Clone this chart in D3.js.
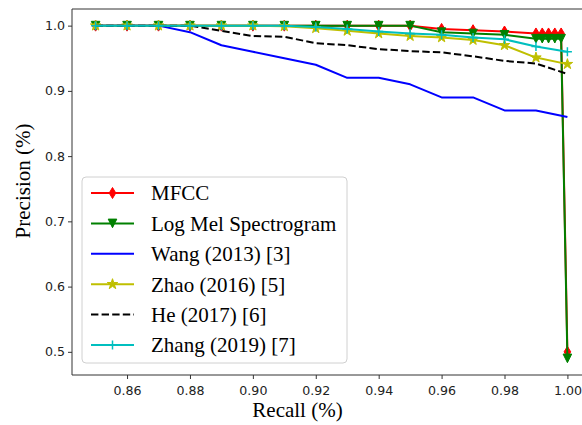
<!DOCTYPE html>
<html>
<head>
<meta charset="utf-8">
<script src="https://cdn.jsdelivr.net/npm/d3@7"></script>
<style>
  html, body { margin: 0; padding: 0; background: #fff; }
  svg { display: block; }
</style>
</head>
<body>
<svg id="chart" width="582" height="425"></svg>
<script>
// Recall points for the reference methods
const recallBase = [0.85, 0.86, 0.87, 0.88, 0.89, 0.90, 0.91, 0.92, 0.93, 0.94, 0.95, 0.96, 0.97, 0.98, 0.99, 1.00];
// Recall points for the proposed features (denser near 1.0)
const recallOurs = [0.85, 0.86, 0.87, 0.88, 0.89, 0.90, 0.91, 0.92, 0.93, 0.94, 0.95, 0.96, 0.97, 0.98, 0.99, 0.992, 0.994, 0.996, 0.998, 1.00];

const precMFCC   = [1, 1, 1, 1, 1, 1, 1, 1, 1, 1, 1, 0.995, 0.993, 0.991, 0.988, 0.988, 0.988, 0.988, 0.988, 0.50];
const precLogMel = [1, 1, 1, 1, 1, 1, 1, 1, 1, 1, 1, 0.990, 0.988, 0.986, 0.980, 0.980, 0.980, 0.980, 0.980, 0.49];
const precWang   = [1, 1, 1, 0.990, 0.970, 0.960, 0.950, 0.940, 0.920, 0.920, 0.910, 0.890, 0.890, 0.870, 0.870, 0.860];
const precZhao   = [1, 1, 1, 1, 1, 1, 0.999, 0.996, 0.992, 0.988, 0.984, 0.982, 0.978, 0.970, 0.951, 0.941];
const precHe     = [1, 1, 1, 1, 0.992, 0.984, 0.983, 0.973, 0.970, 0.964, 0.961, 0.959, 0.953, 0.946, 0.942, 0.926];
const precZhang  = [1, 1, 1, 1, 1, 1, 1, 0.998, 0.995, 0.991, 0.988, 0.986, 0.982, 0.979, 0.968, 0.960];

const seriesNames = ["MFCC", "Log Mel Spectrogram", "Wang (2013) [3]", "Zhao (2016) [5]", "He (2017) [6]", "Zhang (2019) [7]"];

const xTicks = [0.86, 0.88, 0.90, 0.92, 0.94, 0.96, 0.98, 1.00];
const yTicks = [0.5, 0.6, 0.7, 0.8, 0.9, 1.0];

const series = [
  { name: seriesNames[0], x: recallOurs, y: precMFCC,   color: "#ff0000", marker: "thin_diamond" },
  { name: seriesNames[1], x: recallOurs, y: precLogMel, color: "#008000", marker: "triangle_down" },
  { name: seriesNames[2], x: recallBase, y: precWang,   color: "#0000ff", marker: null },
  { name: seriesNames[3], x: recallBase, y: precZhao,   color: "#bfbf00", marker: "star" },
  { name: seriesNames[4], x: recallBase, y: precHe,     color: "#000000", marker: null, dash: "7.4,3.2" },
  { name: seriesNames[5], x: recallBase, y: precZhang,  color: "#00bfbf", marker: "plus" }
];

const svg = d3.select("#chart");
const plot = { left: 72, right: 591, top: 9, bottom: 375 };

const x = d3.scaleLinear().domain([0.8425, 1.0075]).range([plot.left, plot.right]);
const y = d3.scaleLinear().domain([0.4645, 1.0255]).range([plot.bottom, plot.top]);

// Marker shapes
function markerPath(type) {
  switch (type) {
    case "thin_diamond": return "M0,-5.5 L3.3,0 L0,5.5 L-3.3,0 Z";
    case "triangle_down": return "M-4.3,-4.3 L4.3,-4.3 L0,4.3 Z";
    case "star": return d3.symbol(d3.symbolStar, 34)();
    case "plus": return "M-4.5,0 L4.5,0 M0,-4.5 L0,4.5";
  }
  return null;
}

function drawMarker(g, type, color, cx, cy) {
  const p = g.append("path")
    .attr("transform", `translate(${cx},${cy})`)
    .attr("d", markerPath(type));
  if (type === "plus") {
    p.attr("fill", "none").attr("stroke", color).attr("stroke-width", 1.5);
  } else {
    p.attr("fill", color).attr("stroke", color).attr("stroke-width", 1).attr("stroke-linejoin", "miter");
  }
}

// Axes
const xAxis = d3.axisBottom(x).tickValues(xTicks).tickFormat(d3.format(".2f")).tickSize(4).tickSizeOuter(0);
const yAxis = d3.axisLeft(y).tickValues(yTicks).tickFormat(d3.format(".1f")).tickSize(4).tickSizeOuter(0);

const gx = svg.append("g").attr("transform", `translate(0,${plot.bottom})`).call(xAxis);
const gy = svg.append("g").attr("transform", `translate(${plot.left},0)`).call(yAxis);

[gx, gy].forEach(g => {
  g.select(".domain").remove();
  g.selectAll(".tick line").attr("stroke", "#333").attr("stroke-width", 1);
  g.selectAll(".tick text")
    .attr("fill", "#222")
    .style("font-family", "'DejaVu Sans', sans-serif")
    .style("font-size", "12.6px");
});
gx.selectAll(".tick text").attr("dy", "0").attr("y", 19.5);
gy.selectAll(".tick text").attr("x", -7);

// Spines (left, bottom, top; the right one lies outside the picture)
const spines = svg.append("g").attr("stroke", "#333").attr("stroke-width", 1).attr("fill", "none");
spines.append("line").attr("x1", plot.left).attr("x2", plot.left).attr("y1", plot.top).attr("y2", plot.bottom);
spines.append("line").attr("x1", plot.left).attr("x2", 582).attr("y1", plot.bottom).attr("y2", plot.bottom);
spines.append("line").attr("x1", plot.left).attr("x2", 582).attr("y1", plot.top).attr("y2", plot.top);

// Lines and markers
const lineGen = d3.line().x(d => x(d[0])).y(d => y(d[1]));
const marks = svg.append("g");
series.forEach(s => {
  const pts = s.x.map((v, i) => [v, s.y[i]]);
  const g = marks.append("g");
  g.append("path")
    .datum(pts)
    .attr("d", lineGen)
    .attr("fill", "none")
    .attr("stroke", s.color)
    .attr("stroke-width", 2)
    .attr("stroke-linejoin", "round")
    .attr("stroke-dasharray", s.dash || null);
  if (s.marker) {
    pts.forEach(p => drawMarker(g, s.marker, s.color, x(p[0]), y(p[1])));
  }
});

// Axis titles
const serif = "'Liberation Serif', 'Times New Roman', serif";
svg.append("text")
  .attr("x", 297.5).attr("y", 416.5)
  .attr("text-anchor", "middle")
  .style("font-family", serif).style("font-size", "21px")
  .attr("fill", "#000")
  .text("Recall (%)");
svg.append("text")
  .attr("transform", "translate(30,181) rotate(-90)")
  .attr("text-anchor", "middle")
  .style("font-family", serif).style("font-size", "21px")
  .attr("fill", "#000")
  .text("Precision (%)");

// Legend
const legend = svg.append("g");
legend.append("rect")
  .attr("x", 82).attr("y", 177).attr("width", 265).attr("height", 186)
  .attr("rx", 4).attr("ry", 4)
  .attr("fill", "#fff").attr("fill-opacity", 0.8)
  .attr("stroke", "#d0d0d0").attr("stroke-width", 1);

series.forEach((s, i) => {
  const cy = 193 + i * 30.4;
  const g = legend.append("g");
  g.append("line")
    .attr("x1", 91).attr("x2", 134).attr("y1", cy).attr("y2", cy)
    .attr("stroke", s.color).attr("stroke-width", 2)
    .attr("stroke-dasharray", s.dash || null);
  if (s.marker) drawMarker(g, s.marker, s.color, 112.5, cy);
  g.append("text")
    .attr("x", 151).attr("y", cy).attr("dy", "0.35em")
    .style("font-family", serif).style("font-size", "21px")
    .attr("fill", "#000")
    .text(s.name);
});
</script>
</body>
</html>
